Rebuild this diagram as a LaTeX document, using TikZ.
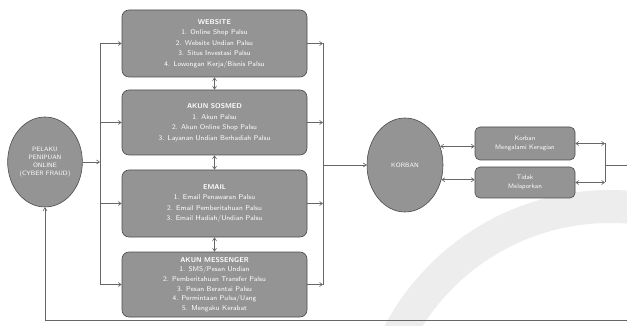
\documentclass[tikz,border=0pt]{standalone}
\usetikzlibrary{arrows.meta,shapes.geometric}
\begin{document}
\begin{tikzpicture}[x=1pt,y=-1pt,
  box/.style={draw=black!70, line width=0.6pt, fill=black!42, rounded corners=7pt, text=white,
    align=center, font=\fontsize{7}{10.5}\selectfont\sffamily, inner sep=2pt, minimum width=185pt},
  sbox/.style={draw=black!70, line width=0.6pt, fill=black!42, rounded corners=5pt, text=white,
    align=center, font=\fontsize{6.5}{8.5}\selectfont\sffamily, inner sep=2pt, minimum width=100pt},
  ell/.style={ellipse, draw=black!70, line width=0.6pt, fill=black!42, text=white, align=center,
    font=\fontsize{6.3}{8}\selectfont\sffamily, inner sep=1pt},
  conn/.style={draw=black!60, line width=0.6pt},
  arr/.style={conn, -{Straight Barb[length=3pt,width=4pt]}},
  darr/.style={conn, {Straight Barb[length=3pt,width=4pt]}-{Straight Barb[length=3pt,width=4pt]}}
]
\useasboundingbox (0,0) rectangle (627,326);
% faint watermark
\begin{scope}
\clip (0,0) rectangle (627,326);
\fill[black!7, even odd rule] (610,445) circle (255) (610,445) circle (222);
\end{scope}

\node[ell, minimum width=74pt, minimum height=90pt] (pel) at (45,162)
  {PELAKU\\PENIPUAN\\ONLINE\\(CYBER FRAUD)};

\node[box, minimum height=67pt] (web) at (214.5,43.5)
  {\textbf{WEBSITE}\\1. Online Shop Palsu\\2. Website Undian Palsu\\3. Situs Investasi Palsu\\4. Lowongan Kerja/Bisnis Palsu};
\node[box, minimum height=65pt] (sos) at (214.5,122.5)
  {\textbf{AKUN SOSMED}\\1. Akun Palsu\\2. Akun Online Shop Palsu\\3. Layanan Undian Berhadiah Palsu};
\node[box, minimum height=67pt] (eml) at (214.5,203.5)
  {\textbf{EMAIL}\\1. Email Penawaran Palsu\\2. Email Pemberitahuan Palsu\\3. Email Hadiah/Undian Palsu};
\node[box, minimum height=65pt, font=\fontsize{7}{9.6}\selectfont\sffamily] (msg) at (214.5,284.5)
  {\textbf{AKUN MESSENGER}\\1. SMS/Pesan Undian\\2. Pemberitahuan Transfer Palsu\\3. Pesan Berantai Palsu\\4. Permintaan Pulsa/Uang\\5. Mengaku Kerabat};

\node[ell, minimum width=76pt, minimum height=94pt] (kor) at (405,165) {KORBAN};

\node[sbox, minimum height=33pt] (top) at (525,143.5) {Korban\\Mengalami Kerugian};
\node[sbox, minimum height=31pt] (bot) at (525,182.5) {Tidak\\Melaporkan};

% left distribution line
\coordinate (L1) at (100,43.5);
\coordinate (L4) at (100,284.5);
\draw[conn] (L1) -- (L4);
\draw[arr] (pel.east) -- (pel.east -| L1);
\draw[arr] (L1) -- (web.west);
\draw[arr] (sos.west -| L1) -- (sos.west);
\draw[arr] (eml.west -| L1) -- (eml.west);
\draw[arr] (L4) -- (msg.west);

% between boxes
\draw[darr] (web.south) -- (sos.north);
\draw[darr] (sos.south) -- (eml.north);
\draw[darr] (eml.south) -- (msg.north);

% right collecting line
\coordinate (R1) at (323,43.5);
\coordinate (R4) at (323,284.5);
\draw[conn] (R1) -- (R4);
\draw[arr] (web.east) -- (R1);
\draw[arr] (sos.east) -- (sos.east -| R1);
\draw[arr] (eml.east) -- (eml.east -| R1);
\draw[arr] (msg.east) -- (R4);
\draw[arr] (kor.west -| R1) -- (kor.west);

% korban to outcomes
\draw[darr] (kor.28) -- (kor.28 -| top.west);
\draw[darr] (kor.-22) -- (kor.-22 -| bot.west);

% outcomes to right
\coordinate (RR1) at (605,143.5);
\coordinate (RR2) at (605,182.5);
\coordinate (RM) at (605,165);
\coordinate (Rout) at (627,165);
\draw[darr] (top.east) -- (RR1);
\draw[darr] (bot.east) -- (RR2);
\draw[conn] (RR1) -- (RR2);
\draw[conn] (RM) -- (Rout);

% feedback line at bottom
\coordinate (B1) at (45,320);
\coordinate (B2) at (627,320);
\draw[arr] (B2) -- (B1) -- (pel.south);
\end{tikzpicture}
\end{document}
